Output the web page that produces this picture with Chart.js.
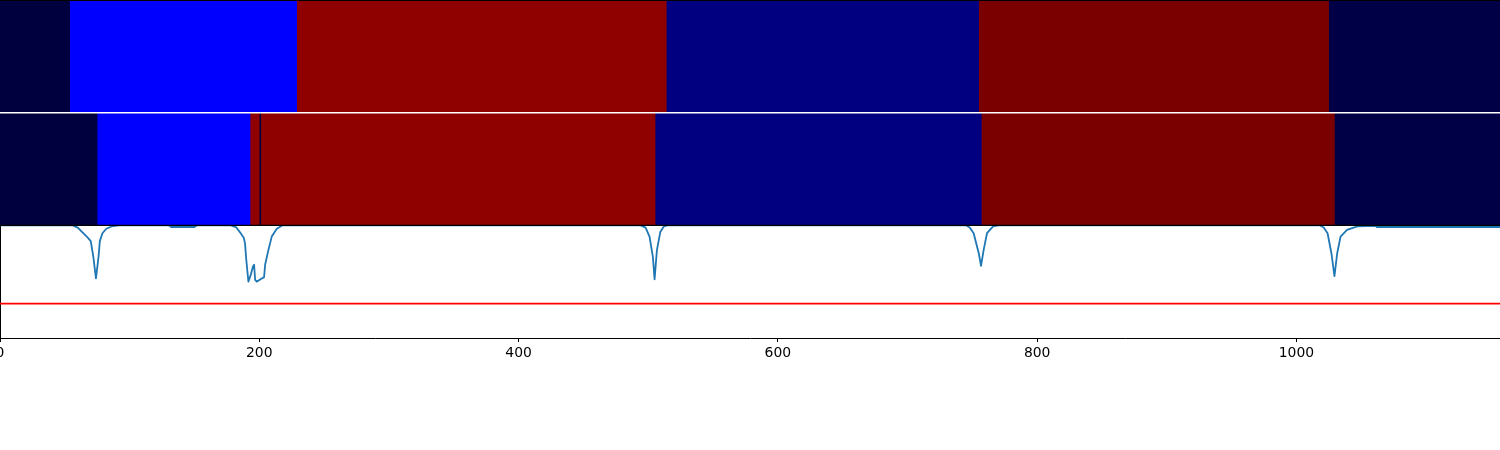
<!DOCTYPE html>
<html>
<head>
<meta charset="utf-8">
<script src="https://cdn.jsdelivr.net/npm/chart.js@4.4.1/dist/chart.umd.min.js"></script>
<style>
  html, body { margin: 0; padding: 0; background: #ffffff; }
  #wrap { width: 1500px; height: 450px; }
</style>
</head>
<body>
<div id="wrap"><canvas id="chart" width="1500" height="450"></canvas></div>
<script>
// =========================
// DATA
// =========================

const xMax = 1157;
const xTicks = [0, 200, 400, 600, 800, 1000];

// top strip: segment edges + colours
const topEdges = [0, 54, 229, 514, 755, 1025, xMax];
const topColors = ["#00003e", "#0000ff", "#8f0000", "#000080", "#7a0000", "#000046"];

// second strip
const midEdges = [0, 75, 193, 200, 201.4, 505.4, 757, 1029.3, xMax];
const midColors = ["#00003e", "#0000ff", "#8f0000", "#00003e", "#8f0000", "#000080", "#7a0000", "#000046"];

// bottom panel: score curve + threshold
const lineX = [0, 56, 60, 63, 66, 68, 70, 72, 74, 76, 77, 79, 82, 86, 92,
  130, 132, 150, 152, 178, 182, 185, 188, 189, 190, 191.6, 193.4, 195, 196, 196.8, 198, 200.6, 203.7, 204.5, 207, 209.6, 213.5, 218,
  494, 498, 501, 503.6, 504.9, 506.7, 509.3, 512, 515,
  745, 748, 751, 755, 756.7, 758.7, 761.3, 766, 770,
  1018, 1021, 1024, 1027, 1029.3, 1031.4, 1034, 1039, 1047, 1061, 1062, xMax];
const lineY = [1.0, 1.0, 0.98, 0.945, 0.91, 0.887, 0.86, 0.72, 0.53, 0.72, 0.86, 0.93, 0.97, 0.99, 1.0,
  1.0, 0.985, 0.985, 1.0, 1.0, 0.985, 0.94, 0.89, 0.84, 0.69, 0.5, 0.56, 0.63, 0.65, 0.515, 0.5, 0.52, 0.54, 0.65, 0.78, 0.9, 0.97, 1.0,
  1.0, 0.98, 0.9, 0.72, 0.52, 0.78, 0.94, 0.99, 1.0,
  1.0, 0.98, 0.93, 0.75, 0.64, 0.78, 0.93, 0.99, 1.0,
  1.0, 0.98, 0.93, 0.75, 0.55, 0.75, 0.9, 0.96, 0.99, 0.995, 0.985, 0.985];
const threshold = 0.305;

// =========================
// BUILD DATASETS
// =========================

// each strip lives in its own band of the y scale: bottom 0-1, middle 1-2, top 2-3
// every segment is painted from its start to the strip end, later ones on top,
// so neighbouring fills never leave an anti-aliased seam between them
function stripDatasets(edges, colors, base) {
  const end = edges[edges.length - 1];
  return colors.map((c, i) => ({
    type: "line",
    data: [{ x: edges[i], y: base + 1 }, { x: end, y: base + 1 }],
    borderColor: c,
    borderWidth: 0,
    backgroundColor: c,
    fill: { value: base },
    pointRadius: 0,
    order: 1 + (colors.length - i) / 100
  }));
}

function hLine(y, color, width, order) {
  return {
    type: "line",
    data: [{ x: 0, y: y }, { x: xMax, y: y }],
    borderColor: color,
    borderWidth: width,
    pointRadius: 0,
    fill: false,
    order: order
  };
}

const datasets = [
  ...stripDatasets(topEdges, topColors, 2),
  ...stripDatasets(midEdges, midColors, 1),
  {
    type: "line",
    data: lineX.map((x, i) => ({ x: x, y: lineY[i] })),
    borderColor: "#1f77b4",
    borderWidth: 1.8,
    borderJoinStyle: "round",
    pointRadius: 0,
    fill: false,
    tension: 0,
    order: 2
  },
  hLine(threshold, "#ff0000", 1.6, 3),
  // frame lines
  hLine(3, "#000000", 2, 0),
  hLine(2, "#ffffff", 1.5, 0),
  hLine(1, "#000000", 1.2, 0)
];

// =========================
// CHART
// =========================

const ctx = document.getElementById("chart");

new Chart(ctx, {
  type: "line",
  data: { datasets: datasets },
  options: {
    responsive: false,
    animation: false,
    events: [],
    layout: { padding: 0 },
    plugins: {
      legend: { display: false },
      tooltip: { enabled: false }
    },
    scales: {
      x: {
        type: "linear",
        min: 0,
        max: xMax,
        afterBuildTicks: (s) => { s.ticks = xTicks.map(v => ({ value: v })); },
        afterFit: (s) => { s.height = 112; s.paddingLeft = 0; s.paddingRight = 0; },
        grid: { drawOnChartArea: false, drawTicks: true, tickLength: 4, color: "#000000", tickWidth: 1 },
        border: { display: true, color: "#000000", width: 1 },
        ticks: {
          color: "#000000",
          padding: 3,
          maxRotation: 0,
          autoSkip: false,
          font: { family: "DejaVu Sans", size: 13.9 },
          callback: (v) => String(v)
        }
      },
      y: {
        type: "linear",
        min: 0,
        max: 3,
        afterFit: (s) => { s.width = 0; },
        grid: { display: false, drawTicks: false },
        border: { display: true, color: "#000000", width: 2 },
        ticks: { display: false }
      }
    }
  }
});
</script>
</body>
</html>
